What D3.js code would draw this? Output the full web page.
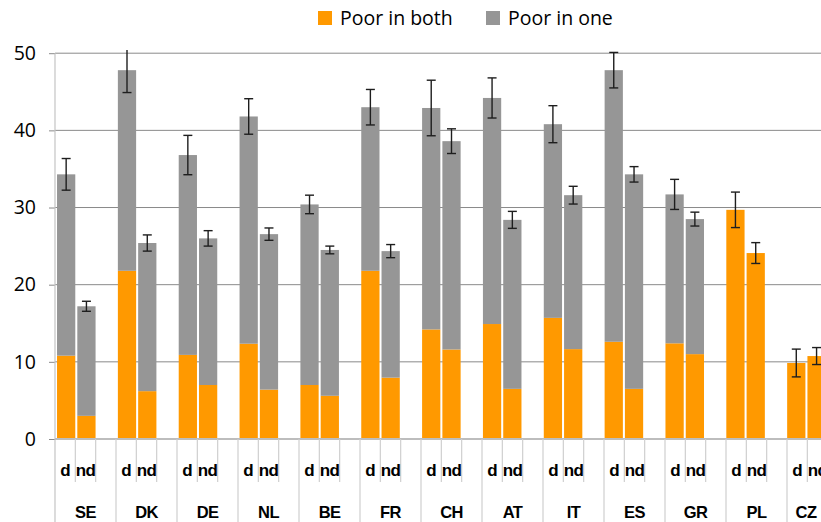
<!DOCTYPE html>
<html>
<head>
<meta charset="utf-8">
<script src="https://cdn.jsdelivr.net/npm/d3@7"></script>
<style>
  html, body { margin: 0; padding: 0; background: #fff; }
  svg { display: block; }
</style>
</head>
<body>
<svg id="chart" width="821" height="522"></svg>
<script>
// ---- data ----
const countries = ["SE","DK","DE","NL","BE","FR","CH","AT","IT","ES","GR","PL","CZ"];
const subLabels = ["d","nd"];
const seriesNames = ["Poor in both","Poor in one"];
const poorBothD  = [10.8, 21.8, 10.9, 12.35, 7.0, 21.8, 14.2, 14.9, 15.7, 12.6, 12.4, 29.7, 9.85];
const poorOneD   = [23.5, 26.0, 25.9, 29.45, 23.4, 21.2, 28.7, 29.3, 25.1, 35.2, 19.3, 0, 0];
const errD       = [2.05, 2.9, 2.55, 2.3, 1.2, 2.3, 3.6, 2.6, 2.4, 2.3, 1.95, 2.3, 1.8];
const poorBothND = [3.0, 6.2, 7.0, 6.4, 5.6, 7.95, 11.6, 6.5, 11.65, 6.5, 11.0, 24.1, 10.75];
const poorOneND  = [14.2, 19.2, 19.0, 20.15, 18.9, 16.4, 27.0, 21.9, 19.95, 27.8, 17.5, 0, 0];
const errND      = [0.65, 1.05, 1.0, 0.8, 0.5, 0.85, 1.6, 1.1, 1.15, 1.0, 0.9, 1.35, 1.1];
const yTicks = [0, 10, 20, 30, 40, 50];

// ---- layout ----
const W = 821, H = 522;
const plotLeft = 55, plotTop = 50, plotBottom = 439, plotRight = 848;
const slotsPerGroup = 3;
const colors = ["#FF9900", "#969696"];
const font = "'Open Sans', 'Liberation Sans', sans-serif";
const boldFont = "'Liberation Sans', Arial, sans-serif";

// rows: each bar
const rows = [];
countries.forEach((c, i) => {
  rows.push({country: c, sub: subLabels[0], slot: i*3, both: poorBothD[i], one: poorOneD[i], err: errD[i]});
  rows.push({country: c, sub: subLabels[1], slot: i*3+1, both: poorBothND[i], one: poorOneND[i], err: errND[i]});
});
const slotIds = d3.range(countries.length * slotsPerGroup);

const svg = d3.select("#chart");

const y = d3.scaleLinear().domain([0, 50]).range([plotBottom, 53.2]);
const xSlot = d3.scaleBand().domain(slotIds).range([plotLeft, plotRight]).padding(0);
const xBar = d3.scaleBand().domain(slotIds).range([plotLeft, plotRight]).paddingInner(0.1).paddingOuter(0.1);
const xGroup = d3.scaleBand().domain(countries).range([plotLeft, plotRight]).padding(0);

// clip
svg.append("defs").append("clipPath").attr("id", "clip")
  .append("rect").attr("x", plotLeft).attr("y", plotTop).attr("width", W - plotLeft).attr("height", plotBottom - plotTop + 1);

// gridlines
svg.append("g").selectAll("line").data(yTicks.filter(t => t > 0)).join("line")
  .attr("x1", plotLeft).attr("x2", W)
  .attr("y1", d => y(d)).attr("y2", d => y(d))
  .attr("stroke", "#8a8a8a").attr("stroke-width", 1);

// stacked bars
const stack = d3.stack().keys(["both", "one"]);
const stacked = stack(rows);
const gBars = svg.append("g").attr("clip-path", "url(#clip)");
gBars.selectAll("g").data(stacked).join("g")
  .attr("fill", (d, i) => colors[i])
  .selectAll("rect").data(d => d).join("rect")
  .attr("x", d => xBar(d.data.slot))
  .attr("width", xBar.bandwidth())
  .attr("y", d => y(d[1]))
  .attr("height", d => Math.max(0, y(d[0]) - y(d[1])));

// error bars
const gErr = svg.append("g").attr("clip-path", "url(#clip)")
  .attr("stroke", "#1e1e1e").attr("stroke-width", 1.4).attr("fill", "none");
const eb = gErr.selectAll("g").data(rows).join("g");
const cx = d => xBar(d.slot) + xBar.bandwidth() / 2;
const tot = d => d.both + d.one;
eb.append("line").attr("x1", cx).attr("x2", cx)
  .attr("y1", d => y(tot(d) + d.err)).attr("y2", d => y(tot(d) - d.err));
eb.append("line").attr("x1", d => cx(d) - 4.5).attr("x2", d => cx(d) + 4.5)
  .attr("y1", d => y(tot(d) + d.err)).attr("y2", d => y(tot(d) + d.err));
eb.append("line").attr("x1", d => cx(d) - 4.5).attr("x2", d => cx(d) + 4.5)
  .attr("y1", d => y(tot(d) - d.err)).attr("y2", d => y(tot(d) - d.err));

// y axis
const yAxis = d3.axisLeft(y).tickValues(yTicks).tickSizeInner(6).tickSizeOuter(0).tickPadding(13);
const gy = svg.append("g").attr("transform", `translate(${plotLeft},0)`).call(yAxis);
gy.select(".domain").remove();
gy.selectAll(".tick line").attr("stroke", "#8a8a8a");
gy.selectAll(".tick text").attr("font-family", font).attr("font-size", 19.5).attr("fill", "#000");

// vertical axis line
svg.append("line").attr("x1", plotLeft).attr("x2", plotLeft)
  .attr("y1", y(50)).attr("y2", H).attr("stroke", "#c4c4c4").attr("stroke-width", 1.2);

// zero baseline
svg.append("line").attr("x1", plotLeft).attr("x2", W)
  .attr("y1", y(0)).attr("y2", y(0)).attr("stroke", "#bdbdbd").attr("stroke-width", 2);

// category axis: boundaries
const boundaries = d3.range(slotIds.length + 1);
const bx = i => i < slotIds.length ? xSlot(i) : xSlot(i - 1) + xSlot.bandwidth();
svg.append("g").selectAll("line").data(boundaries.filter(i => i > 0)).join("line")
  .attr("x1", bx).attr("x2", bx)
  .attr("y1", y(0))
  .attr("y2", i => i % slotsPerGroup === 0 ? H : y(0) + 43)
  .attr("stroke", "#cfcfcf").attr("stroke-width", 1.2);

// sub labels
svg.append("g").selectAll("text").data(rows).join("text")
  .attr("x", d => xSlot(d.slot) + xSlot.bandwidth() / 2)
  .attr("y", 476)
  .attr("text-anchor", "middle")
  .attr("font-family", boldFont).attr("font-weight", "bold").attr("font-size", 17)
  .attr("letter-spacing", -0.6)
  .text(d => d.sub);

// country labels (centered in the visible part of each group)
svg.append("g").selectAll("text").data(countries).join("text")
  .attr("x", d => (xGroup(d) + Math.min(xGroup(d) + xGroup.bandwidth(), W + 4)) / 2)
  .attr("y", 518)
  .attr("text-anchor", "middle")
  .attr("font-family", boldFont).attr("font-weight", "bold").attr("font-size", 16.5)
  .attr("letter-spacing", -0.6)
  .text(d => d);

// legend
const legendX = [318, 486];
const lg = svg.append("g").selectAll("g").data(seriesNames).join("g")
  .attr("transform", (d, i) => `translate(${legendX[i]},11)`);
lg.append("rect").attr("width", 14).attr("height", 14).attr("fill", (d, i) => colors[i]);
lg.append("text").attr("x", 22).attr("y", 14)
  .attr("font-family", font).attr("font-size", 19.5).attr("fill", "#000")
  .text(d => d);
</script>
</body>
</html>
